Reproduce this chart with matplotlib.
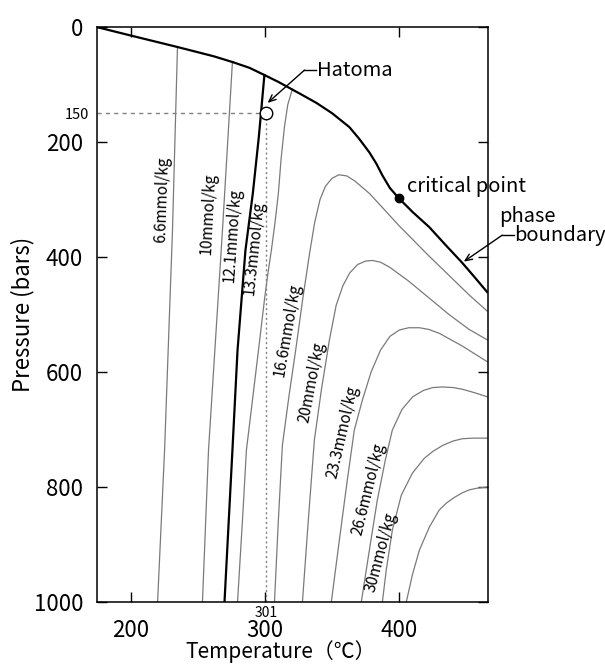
import matplotlib
matplotlib.use('Agg')
import matplotlib.pyplot as plt

plt.rcParams['font.family'] = ['Noto Sans CJK JP', 'DejaVu Sans']

# phase boundary of seawater, temperature (degC) vs pressure (bars)
boundary_t = [174.7, 198.5, 234.9, 262, 275.8, 288.5, 299.6, 310, 318.2, 328, 338.3, 350, 362.8,
              370, 377.7, 383, 387.4, 393, 399.3, 410, 422.3, 434, 446.8, 456, 465.4]
boundary_p = [0, 13.9, 34.8, 51, 60.9, 71, 83.5, 95.5, 106, 118.5, 132, 150, 174,
              194, 218, 238, 258, 280, 297, 322, 348, 378, 410, 435, 461]

# iso-concentration lines
c66_t = [234.9, 231.2, 225.3, 220.1]
c66_p = [34.8, 353, 736, 1000]

c10_t = [275.8, 268.4, 258.0, 253.5]
c10_p = [60.9, 353, 736, 1000]

c121_t = [299.6, 295.5, 291.0, 285.5, 279.6, 275.8, 269.9]
c121_p = [83.5, 190, 289, 388, 562, 736, 1000]

c133_t = [320.4, 317.0, 314.5, 312.0, 310.0, 307.5, 304.8, 302.0, 299.6, 295.2, 290.7, 286.2, 283.3, 279.6]
c133_p = [108, 135, 174, 230, 289, 340, 388, 432, 475, 562, 649, 736, 857, 1000]

c166_t = [307.1, 310.0, 313.0, 318.0, 323.0, 328.0, 333.0, 337.0, 341.0, 345.0, 350.0, 355.0, 361.0,
          367.0, 378.0, 389.0, 400.0, 411.0, 422.0, 437.0, 452.0, 465.4]
c166_p = [1000, 857, 727, 640, 560, 475, 397, 340, 300, 277, 263, 257, 259,
          268, 290, 318, 346, 372, 398, 432, 466, 494]

c20_t = [327.9, 332.3, 336.8, 342.0, 348.0, 353.0, 358.0, 363.0, 369.0, 375.0, 380.0, 386.0, 393.0,
         407.0, 422.0, 437.0, 452.0, 465.4]
c20_p = [1000, 857, 718, 631, 544, 484, 450, 428, 413, 407, 406, 409, 418,
         442, 471, 500, 526, 544]

c233_t = [349.4, 355.4, 361.3, 366.5, 372.5, 379.0, 386.0, 393.0, 400.0, 407.0, 415.0, 422.0, 430.0, 447.0, 465.4]
c233_p = [1000, 892, 788, 701, 649, 600, 562, 538, 527, 523, 523, 526, 533, 555, 582]

c266_t = [371.7, 377.7, 383.6, 389.6, 394.8, 402.0, 410.0, 418.0, 425.0, 432.0, 440.0, 447.0, 456.0, 465.4]
c266_p = [1000, 910, 823, 753, 701, 665, 643, 632, 627, 626, 627, 630, 636, 643]

c30_t = [387.4, 390.3, 394.8, 401.5, 409.7, 418.6, 425.0, 432.0, 440.0, 447.0, 455.0, 465.4]
c30_p = [1000, 944, 875, 814, 776, 750, 738, 728, 720, 716, 715, 715]

c333_t = [405.2, 409.7, 414.9, 422.3, 429.7, 435.0, 441.0, 447.0, 452.0, 458.0, 465.4]
c333_p = [1000, 953, 910, 870, 840, 828, 818, 810, 805, 802, 800]

thin_lines = [(c66_t, c66_p), (c10_t, c10_p), (c133_t, c133_p), (c166_t, c166_p),
              (c20_t, c20_p), (c233_t, c233_p), (c266_t, c266_p), (c30_t, c30_p),
              (c333_t, c333_p)]

line_labels = ['6.6mmol/kg', '10mmol/kg', '12.1mmol/kg', '13.3mmol/kg', '16.6mmol/kg',
               '20mmol/kg', '23.3mmol/kg', '26.6mmol/kg', '30mmol/kg']
label_t = [223.8, 258.0, 275.8, 292.2, 316.7, 334.6, 357.6, 377.0, 386.6]
label_p = [301, 325, 363, 384, 527, 617, 704, 803, 913]
label_rot = [88, 87, 86, 84, 80, 79, 77, 76, 75]

hatoma_t, hatoma_p = 301, 150
crit_t, crit_p = 400, 297

fig = plt.figure(figsize=(6.05, 6.65), dpi=100)
ax = fig.add_axes([0.1603, 0.0947, 0.6463, 0.8647])

gray = '#7a7a7a'
for t, p in thin_lines:
    ax.plot(t, p, color=gray, lw=0.9, solid_joinstyle='round')
ax.plot(c121_t, c121_p, color='black', lw=1.6, solid_joinstyle='round')
ax.plot(boundary_t, boundary_p, color='black', lw=1.6, solid_joinstyle='round')

for txt, t, p, r in zip(line_labels, label_t, label_p, label_rot):
    ax.text(t, p, txt, rotation=r, ha='center', va='center', fontsize=11)

# Hatoma guide lines
ax.plot([175, hatoma_t - 4], [hatoma_p, hatoma_p], color='#808080', lw=1, ls=(0, (3, 3)))
ax.plot([hatoma_t, hatoma_t], [hatoma_p + 8, 1000], color='#808080', lw=1, ls=(0, (1.5, 2)))
ax.plot([hatoma_t], [hatoma_p], 'o', ms=9, mfc='white', mec='black', mew=1)
ax.plot([crit_t], [crit_p], 'o', ms=6, color='black')

arrow = dict(arrowstyle='->,head_length=0.5,head_width=0.22', lw=1, color='black',
             shrinkA=0, shrinkB=0)
ax.text(339, 75, 'Hatoma', fontsize=14.5, ha='left', va='center')
ax.plot([329.4, 338], [75, 75], color='black', lw=1)
ax.annotate('', xy=(302, 132), xytext=(329.4, 75), arrowprops=arrow)

ax.text(405.6, 278, 'critical point', fontsize=14.5, ha='left', va='center')

ax.text(474.3, 330, 'phase', fontsize=14.5, ha='left', va='center', clip_on=False)
ax.text(485.5, 362, 'boundary', fontsize=14.5, ha='left', va='center', clip_on=False)
ax.plot([476.6, 485], [362, 362], color='black', lw=1, clip_on=False)
ax.annotate('', xy=(448, 408), xytext=(476.6, 362), arrowprops=arrow, annotation_clip=False)

ax.set_xlim(175, 466)
ax.set_ylim(1000, 0)

ax.set_xticks([200, 300, 400])
ax.set_xticks([301], minor=True)
ax.set_xticklabels(['301'], minor=True)
ax.set_yticks([0, 200, 400, 600, 800, 1000])
ax.set_yticks([150], minor=True)
ax.set_yticklabels(['150'], minor=True)

ax.tick_params(axis='both', which='major', direction='in', length=7, width=1,
               labelsize=16, top=True, right=True)
ax.tick_params(axis='x', which='major', pad=12)
ax.tick_params(axis='y', which='major', pad=10)
ax.tick_params(axis='x', which='minor', length=0, labelsize=10, pad=3)
ax.tick_params(axis='y', which='minor', length=0, labelsize=10.5, pad=6)

for s in ax.spines.values():
    s.set_linewidth(1.1)

ax.set_xlabel('Temperature（℃）', fontsize=15)
ax.xaxis.set_label_coords(0.47, -0.066)
ax.set_ylabel('Pressure (bars)', fontsize=16)
ax.yaxis.set_label_coords(-0.16, 0.5)

fig.savefig('out.png', dpi=100)
